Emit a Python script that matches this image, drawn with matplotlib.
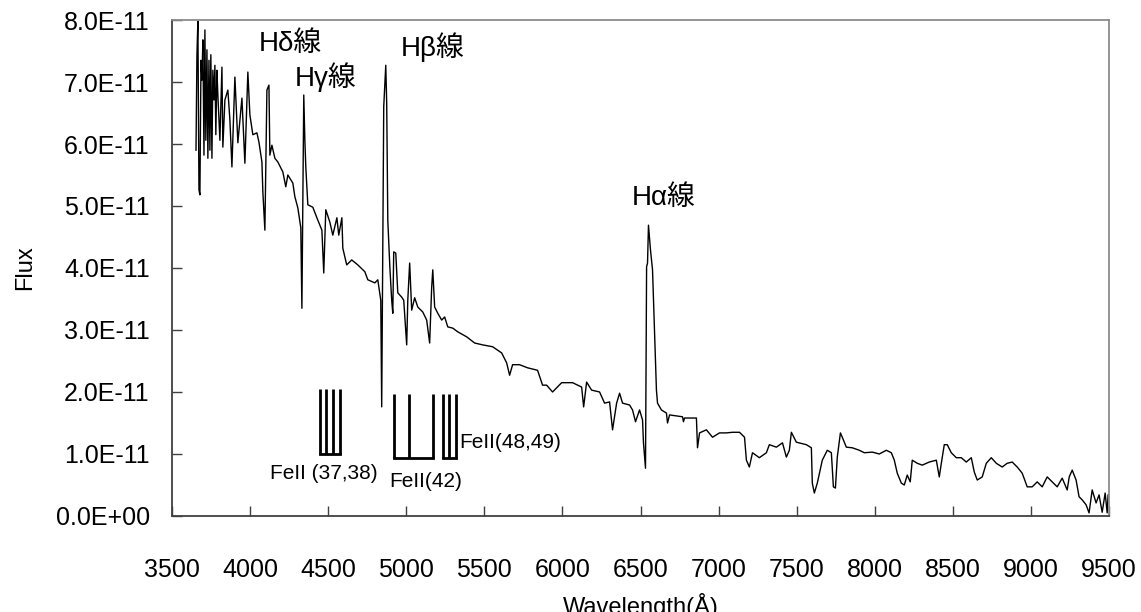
import numpy as np
import matplotlib
matplotlib.use("Agg")
import matplotlib.pyplot as plt
from matplotlib.ticker import FuncFormatter, MultipleLocator

plt.rcParams['font.family'] = ['Liberation Sans', 'Noto Sans CJK JP', 'DejaVu Sans']

# spectrum (wavelength in Angstrom, flux in units of 1e-11)
wavelength = [
    3654, 3660, 3666, 3673, 3679, 3686, 3692, 3698, 3705, 3711, 3717, 3724, 3730, 3737,
    3743, 3749, 3756, 3762, 3769, 3775, 3781, 3788, 3794, 3807, 3820, 3826, 3839, 3858,
    3871, 3884, 3903, 3922, 3948, 3967, 3986, 3999, 4018, 4044, 4057, 4076, 4082, 4095,
    4108, 4121, 4127, 4140, 4159, 4178, 4210, 4229, 4242, 4274, 4287, 4306, 4325, 4332,
    4344, 4351, 4357, 4370, 4402, 4428, 4460, 4472, 4485, 4511, 4530, 4556, 4568, 4588,
    4594, 4619, 4651, 4690, 4735, 4754, 4799, 4818, 4837, 4843, 4856, 4869, 4875, 4882,
    4895, 4907, 4914, 4920, 4933, 4946, 4971, 4984, 5003, 5010, 5022, 5035, 5054, 5074,
    5106, 5131, 5150, 5163, 5170, 5182, 5202, 5227, 5246, 5266, 5298, 5330, 5387, 5438,
    5489, 5553, 5611, 5643, 5662, 5681, 5726, 5777, 5841, 5873, 5899, 5937, 5995, 6065,
    6123, 6136, 6155, 6187, 6238, 6270, 6302, 6321, 6347, 6366, 6385, 6430, 6449, 6468,
    6494, 6513, 6519, 6532, 6539, 6545, 6551, 6564, 6577, 6590, 6602, 6609, 6634, 6666,
    6673, 6686, 6769, 6775, 6782, 6858, 6865, 6878, 6922, 6961, 7006, 7050, 7089, 7134,
    7166, 7178, 7197, 7217, 7261, 7306, 7325, 7370, 7409, 7434, 7453, 7466, 7498, 7562,
    7594, 7600, 7613, 7632, 7664, 7696, 7722, 7735, 7748, 7760, 7780, 7792, 7818, 7856,
    7901, 7933, 7984, 8029, 8074, 8106, 8125, 8144, 8170, 8189, 8208, 8227, 8240, 8272,
    8304, 8349, 8394, 8413, 8426, 8445, 8464, 8490, 8522, 8554, 8586, 8618, 8637, 8656,
    8688, 8714, 8746, 8778, 8816, 8848, 8880, 8912, 8944, 8976, 9008, 9040, 9072, 9104,
    9136, 9168, 9200, 9232, 9245, 9264, 9289, 9308, 9328, 9353, 9372, 9392, 9417, 9436,
    9456, 9475, 9488, 9494,
]
flux_e11 = [
    5.90, 7.44, 7.98, 5.26, 5.18, 7.35, 7.03, 7.68, 5.82, 7.84, 6.06, 7.52, 5.77, 7.35,
    5.90, 7.44, 5.77, 7.19, 6.71, 7.27, 6.15, 7.19, 6.79, 6.06, 7.24, 5.95, 6.71, 6.87,
    6.39, 5.63, 7.08, 6.02, 6.74, 5.69, 7.16, 6.47, 6.15, 6.18, 6.03, 5.71, 5.23, 4.61,
    6.87, 6.95, 5.82, 5.98, 5.77, 5.71, 5.55, 5.31, 5.50, 5.37, 5.15, 4.97, 4.65, 3.35,
    6.79, 6.06, 5.63, 5.02, 4.98, 4.81, 4.61, 3.92, 4.94, 4.74, 4.53, 4.81, 4.53, 4.81,
    4.32, 4.05, 4.13, 4.05, 3.94, 3.81, 3.76, 3.81, 3.48, 1.76, 6.60, 7.27, 6.66, 4.77,
    4.02, 3.48, 3.27, 4.26, 4.24, 3.60, 3.53, 3.48, 2.76, 3.48, 4.08, 3.32, 3.52, 3.37,
    3.29, 3.16, 2.79, 3.69, 3.97, 3.37, 3.27, 3.16, 3.21, 3.05, 3.03, 2.97, 2.89, 2.79,
    2.76, 2.73, 2.63, 2.47, 2.27, 2.44, 2.44, 2.39, 2.35, 2.11, 2.11, 2.00, 2.15, 2.15,
    2.08, 1.76, 2.16, 2.03, 2.00, 1.82, 1.84, 1.39, 1.82, 1.98, 1.82, 1.79, 1.71, 1.52,
    1.71, 1.55, 1.18, 0.77, 4.02, 4.08, 4.69, 4.29, 3.97, 2.95, 2.03, 1.82, 1.71, 1.66,
    1.50, 1.63, 1.60, 1.52, 1.58, 1.58, 1.10, 1.34, 1.39, 1.27, 1.34, 1.34, 1.35, 1.35,
    1.27, 0.90, 0.79, 1.02, 0.94, 1.02, 1.15, 1.11, 1.18, 0.95, 1.06, 1.35, 1.19, 1.15,
    1.10, 0.53, 0.37, 0.53, 0.90, 1.06, 1.02, 0.47, 0.45, 0.95, 1.34, 1.27, 1.11, 1.10,
    1.06, 1.02, 1.03, 1.00, 1.06, 1.02, 0.90, 0.69, 0.53, 0.50, 0.66, 0.55, 0.90, 0.85,
    0.82, 0.87, 0.90, 0.63, 0.85, 1.15, 1.15, 1.02, 0.94, 0.94, 0.87, 0.94, 0.71, 0.58,
    0.63, 0.85, 0.94, 0.85, 0.79, 0.85, 0.87, 0.79, 0.69, 0.47, 0.47, 0.55, 0.47, 0.63,
    0.55, 0.47, 0.61, 0.42, 0.63, 0.74, 0.58, 0.31, 0.26, 0.18, 0.05, 0.42, 0.21, 0.34,
    0.06, 0.37, 0.05, 0.34,
]

# Fe II multiplet markers: line positions, top and bottom of the comb
fe_groups = [
    ([4447, 4485, 4530, 4575], 2.05, 1.00),
    ([4924, 5018, 5169], 1.97, 0.93),
    ([5234, 5276, 5317], 1.97, 0.93),
]
fe_labels = [
    ("FeII (37,38)", 4473, 0.69, "center"),
    ("FeII(42)", 5125, 0.56, "center"),
    ("FeII(48,49)", 5342, 1.19, "left"),
]

# hydrogen line labels
h_labels = [
    ("Hδ線", 4261, 7.61),
    ("Hγ線", 4485, 7.08),
    ("Hβ線", 5170, 7.56),
    ("Hα線", 6648, 5.13),
]

scale = 1e-11
flux = np.array(flux_e11) * scale

fig = plt.figure(figsize=(11.41, 6.12), dpi=100)
ax = fig.add_axes([0.1507, 0.1569, 0.8213, 0.8104])

ax.plot(wavelength, flux, color="black", lw=1.0)

for lines, top, bottom in fe_groups:
    for wl in lines:
        ax.plot([wl, wl], [bottom * scale, top * scale], color="black", lw=2.0,
                solid_capstyle="butt")
    ax.plot([lines[0], lines[-1]], [bottom * scale, bottom * scale], color="black",
            lw=2.0, solid_capstyle="projecting")

for text, wl, y, ha in fe_labels:
    ax.text(wl, y * scale, text, ha=ha, va="center", fontsize=15)

for text, wl, y in h_labels:
    ax.text(wl, y * scale, text, ha="center", va="center", fontsize=20)

ax.set_xlim(3500, 9500)
ax.set_ylim(0, 8e-11)
ax.xaxis.set_major_locator(MultipleLocator(500))
ax.yaxis.set_major_locator(MultipleLocator(1e-11))
ax.yaxis.set_major_formatter(FuncFormatter(lambda v, pos: "{:.1E}".format(v)))

ax.tick_params(axis="both", direction="in", length=7, width=1.0, color="#404040",
               labelsize=18)
ax.tick_params(axis="x", pad=30)
ax.tick_params(axis="y", pad=16)

for side in ["left", "bottom"]:
    ax.spines[side].set_color("#404040")
    ax.spines[side].set_linewidth(1.3)
for side in ["top", "right"]:
    ax.spines[side].set_color("#8c8c8c")
    ax.spines[side].set_linewidth(1.3)

ax.set_xlabel("Wavelength(Å)", fontsize=17, labelpad=8)
ax.set_ylabel("Flux", fontsize=17, labelpad=14)

fig.savefig("out.png", dpi=100)
